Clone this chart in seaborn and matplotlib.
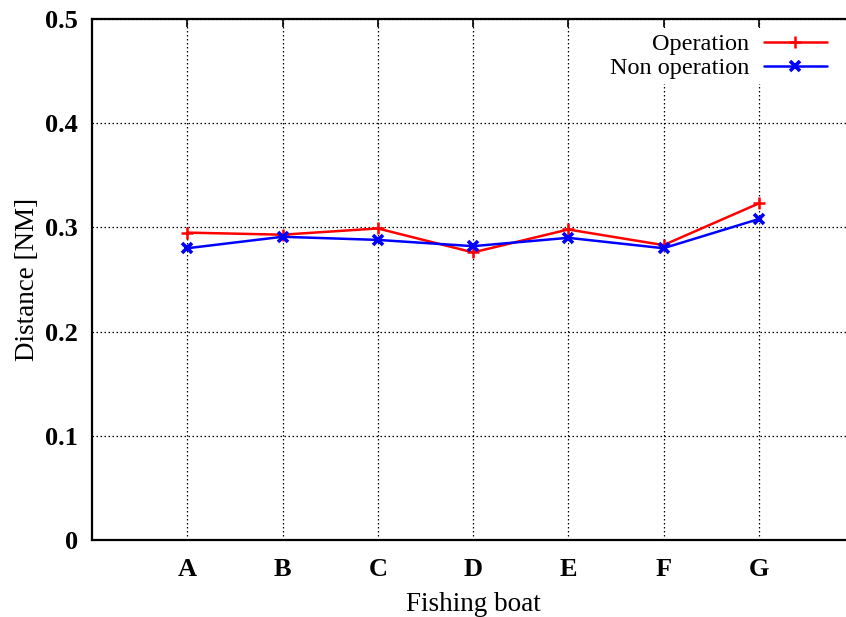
import matplotlib
matplotlib.use("Agg")
import matplotlib.pyplot as plt
import seaborn as sns
import pandas as pd

boats = ["A", "B", "C", "D", "E", "F", "G"]
operation = [0.295, 0.293, 0.299, 0.276, 0.298, 0.283, 0.323]
non_operation = [0.280, 0.291, 0.288, 0.282, 0.290, 0.280, 0.308]
y_ticks = [0, 0.1, 0.2, 0.3, 0.4, 0.5]
y_tick_labels = ["0", "0.1", "0.2", "0.3", "0.4", "0.5"]

sns.set_theme(style="white")
plt.rcParams['font.family'] = ['Liberation Serif', 'DejaVu Serif']
plt.rcParams['text.color'] = 'black'
plt.rcParams['axes.labelcolor'] = 'black'

pos = list(range(1, len(boats) + 1))
df_op = pd.DataFrame({"pos": pos, "value": operation})
df_non = pd.DataFrame({"pos": pos, "value": non_operation})

W, H = 846, 617
fig = plt.figure(figsize=(W / 100, H / 100), dpi=100)
left, right, top, bottom = 92, 854, 19, 540
ax = fig.add_axes([left / W, 1 - bottom / H, (right - left) / W, (bottom - top) / H])

sns.lineplot(data=df_op, x="pos", y="value", color="#ff0000", marker="+",
             markersize=9, markeredgewidth=1.8, markeredgecolor="#ff0000",
             linewidth=1.8, label="Operation", ax=ax)
sns.lineplot(data=df_non, x="pos", y="value", color="#0000ff", marker="x",
             markersize=7, markeredgewidth=2.6, markeredgecolor="#0000ff",
             linewidth=1.8, label="Non operation", ax=ax)

ax.set_xlim(0, 8)
ax.set_ylim(0, 0.5)
ax.set_xticks(pos)
ax.set_xticklabels(boats, fontsize=19, fontweight="bold")
ax.set_yticks(y_ticks)
ax.set_yticklabels(y_tick_labels, fontsize=19, fontweight="bold")
ax.tick_params(direction="in", length=6, width=1.2, top=True, right=True,
               pad=13, colors="black")
ax.tick_params(axis="y", pad=10)
ax.grid(True, color="black", linestyle=(0, (1.2, 2)), linewidth=0.9)
for s in ax.spines.values():
    s.set_linewidth(1.6)
    s.set_color("black")

ax.set_xlabel("Fishing boat", fontsize=19.5, labelpad=8)
ax.set_ylabel("Distance [NM]", fontsize=19.5, labelpad=4)

handles, labels = ax.get_legend_handles_labels()
leg = ax.legend(handles, labels, loc="upper right",
                bbox_to_anchor=(844 / W, 1 - 16 / H), bbox_transform=fig.transFigure,
                markerfirst=False, frameon=True, fancybox=False, framealpha=1,
                facecolor="white", edgecolor="none", fontsize=17.5,
                handlelength=2.6, handletextpad=0.6, labelspacing=0.1,
                borderpad=0.2)
for t in leg.get_texts():
    t.set_color("black")

fig.savefig("out.png", dpi=100)
